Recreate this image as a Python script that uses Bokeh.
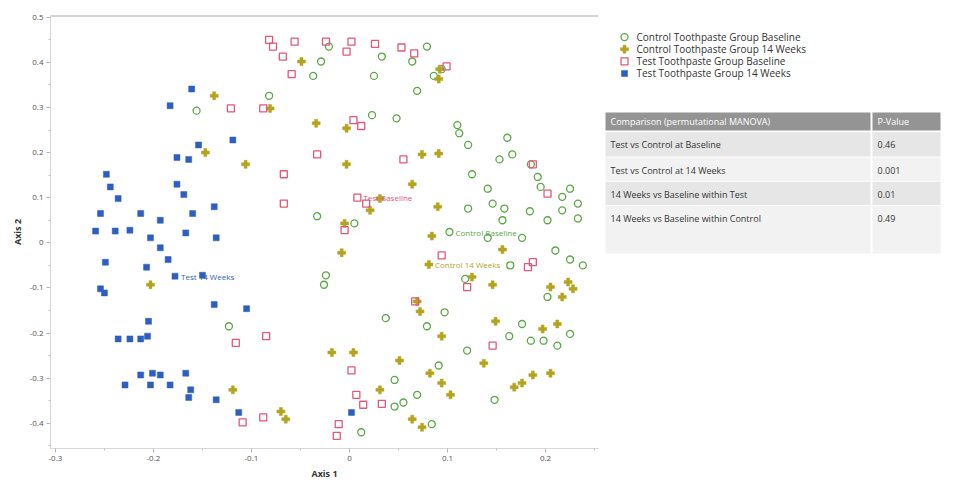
import numpy as np
from bokeh.plotting import figure
from bokeh.layouts import row
from bokeh.models import Range1d, FixedTicker, Span
from bokeh.core.properties import value
from bokeh.embed import file_html
from bokeh.resources import INLINE

FONT = "Open Sans"

# ---- ordination scores (Axis 1, Axis 2) per group ----
control_baseline = [
    (-0.021, 0.435), (-0.029, 0.402), (-0.037, 0.370), (0.025, 0.370), (0.033, 0.413),
    (0.064, 0.402), (0.079, 0.435), (0.086, 0.370), (0.094, 0.385), (-0.082, 0.326),
    (-0.156, 0.293), (0.023, 0.283), (0.048, 0.276), (0.069, 0.337), (0.110, 0.261),
    (0.112, 0.243), (0.161, 0.233), (0.121, 0.217), (0.153, 0.185), (0.166, 0.196),
    (0.185, 0.174), (0.192, 0.146), (0.195, 0.124), (0.225, 0.120), (0.233, 0.087),
    (0.217, 0.102), (0.125, 0.152), (0.141, 0.120), (0.146, 0.087), (0.121, 0.076),
    (0.158, 0.076), (0.217, 0.072), (0.184, 0.070), (0.233, 0.054), (0.202, 0.050),
    (-0.033, 0.059), (0.005, 0.043), (0.141, 0.011), (0.176, 0.011), (0.156, 0.050),
    (0.210, -0.017), (0.238, -0.050), (0.225, -0.037), (0.164, -0.050), (0.118, -0.080),
    (0.202, -0.120), (0.176, -0.180), (0.163, -0.207), (0.198, -0.217), (0.225, -0.202),
    (0.212, -0.228), (0.185, -0.217), (0.097, -0.154), (0.079, -0.185), (0.037, -0.167),
    (0.120, -0.239), (0.091, -0.272), (0.046, -0.304), (0.148, -0.348), (0.069, -0.337),
    (0.055, -0.354), (0.046, -0.363), (0.084, -0.402), (0.012, -0.420), (-0.123, -0.185),
    (-0.026, -0.093), (-0.024, -0.072),
]

control_14w = [
    (-0.138, 0.326), (-0.147, 0.200), (-0.106, 0.174), (-0.049, 0.402), (0.092, 0.385),
    (0.091, 0.363), (-0.081, 0.298), (-0.034, 0.265), (-0.003, 0.254), (0.074, 0.196),
    (0.091, 0.198), (-0.003, 0.174), (0.064, 0.130), (0.031, 0.098), (0.021, 0.072),
    (0.090, 0.080), (-0.005, 0.043), (0.084, 0.015), (0.156, -0.015), (0.125, -0.076),
    (0.146, -0.093), (0.205, -0.098), (0.217, -0.120), (0.223, -0.087), (0.228, -0.102),
    (0.212, -0.180), (0.197, -0.191), (0.149, -0.174), (0.072, -0.152), (0.069, -0.130),
    (0.094, -0.207), (0.137, -0.267), (0.051, -0.261), (0.082, -0.289), (0.094, -0.311),
    (0.103, -0.337), (0.168, -0.320), (0.187, -0.293), (0.176, -0.311), (0.205, -0.289),
    (0.031, -0.326), (0.064, -0.391), (0.074, -0.409), (-0.018, -0.243), (0.004, -0.243),
    (-0.203, -0.093), (-0.119, -0.326), (-0.070, -0.374), (-0.065, -0.391), (-0.008, -0.022),
]

test_baseline = [
    (-0.082, 0.450), (-0.078, 0.435), (-0.056, 0.446), (-0.024, 0.446), (0.002, 0.446),
    (0.026, 0.441), (0.053, 0.433), (0.066, 0.420), (-0.068, 0.413), (-0.059, 0.374),
    (-0.003, 0.424), (0.099, 0.391), (-0.088, 0.298), (-0.121, 0.298), (0.004, 0.272),
    (0.012, 0.259), (-0.033, 0.196), (0.055, 0.185), (-0.067, 0.152), (-0.067, 0.087),
    (0.017, 0.087), (-0.005, 0.028), (0.187, 0.174), (0.202, 0.109), (0.187, -0.043),
    (0.182, -0.054), (0.120, -0.098), (0.094, -0.028), (0.146, -0.228), (0.067, -0.130),
    (-0.085, -0.207), (-0.116, -0.222), (-0.109, -0.398), (-0.088, -0.387), (0.007, -0.337),
    (0.014, -0.359), (0.033, -0.357), (0.002, -0.283), (-0.011, -0.402), (-0.013, -0.428),
]

test_14w = [
    (-0.161, 0.341), (-0.183, 0.304), (-0.119, 0.228), (-0.154, 0.217), (-0.176, 0.189),
    (-0.164, 0.185), (-0.248, 0.152), (-0.244, 0.124), (-0.176, 0.130), (-0.169, 0.107),
    (-0.236, 0.098), (-0.254, 0.065), (-0.213, 0.065), (-0.193, 0.050), (-0.160, 0.065),
    (-0.138, 0.080), (-0.259, 0.026), (-0.239, 0.026), (-0.224, 0.028), (-0.203, 0.011),
    (-0.193, -0.011), (-0.167, 0.022), (-0.136, 0.011), (-0.249, -0.043), (-0.207, -0.054),
    (-0.185, -0.037), (-0.254, -0.102), (-0.250, -0.111), (-0.150, -0.072), (-0.205, -0.174),
    (-0.206, -0.207), (-0.224, -0.213), (-0.213, -0.213), (-0.236, -0.213), (-0.138, -0.137),
    (-0.105, -0.146), (-0.201, -0.289), (-0.213, -0.293), (-0.193, -0.293), (-0.167, -0.289),
    (-0.229, -0.315), (-0.203, -0.315), (-0.183, -0.315), (-0.162, -0.326), (-0.164, -0.343),
    (-0.136, -0.348), (-0.113, -0.376), (0.002, -0.376),
]

# group centroids and their labels
centroid_names = ["Test Baseline", "Control Baseline", "Control 14 Weeks", "Test 14 Weeks"]
centroid_x = [0.008, 0.102, 0.081, -0.178]
centroid_y = [0.100, 0.024, -0.048, -0.074]

legend_labels = [
    "Control Toothpaste Group Baseline",
    "Control Toothpaste Group 14 Weeks",
    "Test Toothpaste Group Baseline",
    "Test Toothpaste Group 14 Weeks",
]

x_ticks = [-0.3, -0.2, -0.1, 0.0, 0.1, 0.2]
x_tick_labels = ["-0.3", "-0.2", "-0.1", "0", "0.1", "0.2"]
y_ticks = [-0.4, -0.3, -0.2, -0.1, 0.0, 0.1, 0.2, 0.3, 0.4, 0.5]
y_tick_labels = ["-0.4", "-0.3", "-0.2", "-0.1", "0", "0.1", "0.2", "0.3", "0.4", "0.5"]

table_header = ["Comparison (permutational MANOVA)", "P-Value"]
comparisons = [
    "Test vs Control at Baseline",
    "Test vs Control at 14 Weeks",
    "14 Weeks vs Baseline within Test",
    "14 Weeks vs Baseline within Control",
]
p_values = ["0.46", "0.001", "0.01", "0.49"]

GREEN = "#5aa845"
OLIVE = "#b3a41e"
PINK = "#e2587c"
BLUE = "#2d5ec0"

# styles: (marker, size, fill, line, line_width)
styles = [
    ("circle", 7, None, GREEN, 1.3),
    ("plus", 8, OLIVE, OLIVE, 0.5),
    ("square", 7, None, PINK, 1.3),
    ("square", 6, BLUE, BLUE, 0.5),
]
groups = [control_baseline, control_14w, test_baseline, test_14w]

# ---------------- scatter panel ----------------
p = figure(width=600, height=482, x_range=Range1d(-0.305, 0.254),
           y_range=Range1d(-0.456, 0.504), output_backend="svg",
           toolbar_location=None, min_border_left=50, min_border_right=2,
           min_border_top=15, min_border_bottom=27)
p.title.visible = False
p.grid.visible = False
p.outline_line_color = None
p.background_fill_color = "white"

for pts, (mk, sz, fill, line, lw) in zip(groups, styles):
    xs = [a for a, b in pts]
    ys = [b for a, b in pts]
    p.scatter(xs, ys, marker=mk, size=sz, fill_color=fill, line_color=line, line_width=lw)

# centroid markers + labels
c_styles = [styles[2], styles[0], styles[1], styles[3]]
c_colors = [PINK, GREEN, OLIVE, BLUE]
for cx, cy, name, (mk, sz, fill, line, lw), col in zip(centroid_x, centroid_y, centroid_names, c_styles, c_colors):
    p.scatter([cx], [cy], marker=mk, size=sz, fill_color=fill, line_color=line, line_width=lw)
    p.text([cx], [cy], text=[name], x_offset=6, text_baseline="middle",
           text_font=value(FONT), text_font_size="8px", text_color=col)

p.add_layout(Span(location=0.504, dimension="width", line_color="#a8a8a8", line_width=2))

xmin = list(np.round(np.arange(-0.3, 0.26, 0.05), 3))
ymin = list(np.round(np.arange(-0.45, 0.51, 0.05), 3))
p.xaxis.ticker = FixedTicker(ticks=x_ticks, minor_ticks=xmin)
p.yaxis.ticker = FixedTicker(ticks=y_ticks, minor_ticks=ymin)
p.xaxis.major_label_overrides = dict(zip(x_ticks, x_tick_labels))
p.yaxis.major_label_overrides = dict(zip(y_ticks, y_tick_labels))
p.xaxis.axis_label = "Axis 1"
p.yaxis.axis_label = "Axis 2"
for ax in (p.xaxis[0], p.yaxis[0]):
    ax.axis_label_text_font = FONT
    ax.axis_label_text_font_style = "bold"
    ax.axis_label_text_font_size = "9px"
    ax.axis_label_text_color = "#333333"
    ax.axis_label_standoff = 3
    ax.major_label_text_font = FONT
    ax.major_label_text_font_size = "8px"
    ax.major_label_text_color = "#555555"
    ax.major_label_standoff = 3
    ax.axis_line_color = "#d8d8d8"
    ax.major_tick_line_color = "#b0b0b0"
    ax.major_tick_out = 4
    ax.major_tick_in = 0
    ax.minor_tick_line_color = "#c0c0c0"
    ax.minor_tick_out = 2
    ax.minor_tick_in = 0
p.yaxis.major_label_orientation = "horizontal"

# ---------------- legend + table panel ----------------
s = figure(width=356, height=482, x_range=Range1d(0, 356), y_range=Range1d(482, 0),
           output_backend="svg", toolbar_location=None, min_border=0)
s.title.visible = False
s.axis.visible = False
s.grid.visible = False
s.outline_line_color = None

# legend entries, stacked from the top of the panel
leg_x, leg_top, leg_step = 24, 24, 13.5
for i, (lab, (mk, sz, fill, line, lw)) in enumerate(zip(legend_labels, styles)):
    yy = leg_top + i * leg_step
    s.scatter([leg_x], [yy], marker=mk, size=sz, fill_color=fill, line_color=line, line_width=lw)
    s.text([leg_x + 12], [yy], text=[lab], text_baseline="middle",
           text_font=value(FONT), text_font_size="10px", text_color="#333333")

# table geometry (panel pixels)
col_l = [5, 272]
col_r = [270, 340]
hdr_top, hdr_bot = 108, 128
row_tops = [130, 158, 185, 212]
row_bots = [157, 184, 211, 265]
row_fill = ["#e6e6e6", "#f2f2f2", "#e6e6e6", "#f2f2f2"]

s.quad(left=col_l, right=col_r, top=[hdr_top] * 2, bottom=[hdr_bot] * 2,
       fill_color="#949494", line_color=None)
s.text(x=[c + 5 for c in col_l], y=[(hdr_top + hdr_bot) / 2] * 2, text=table_header,
       text_baseline="middle", text_font=value(FONT), text_font_size="9px", text_color="white")
for i in range(len(comparisons)):
    s.quad(left=col_l, right=col_r, top=[row_tops[i]] * 2, bottom=[row_bots[i]] * 2,
           fill_color=row_fill[i], line_color=None)
s.text(x=[col_l[0] + 5] * 4, y=[t + 14 for t in row_tops], text=comparisons,
       text_baseline="middle", text_font=value(FONT), text_font_size="9px", text_color="#333333")
s.text(x=[col_l[1] + 5] * 4, y=[t + 14 for t in row_tops], text=p_values,
       text_baseline="middle", text_font=value(FONT), text_font_size="9px", text_color="#333333")

layout = row(p, s)
open("out.html", "w").write(file_html(layout, INLINE))
